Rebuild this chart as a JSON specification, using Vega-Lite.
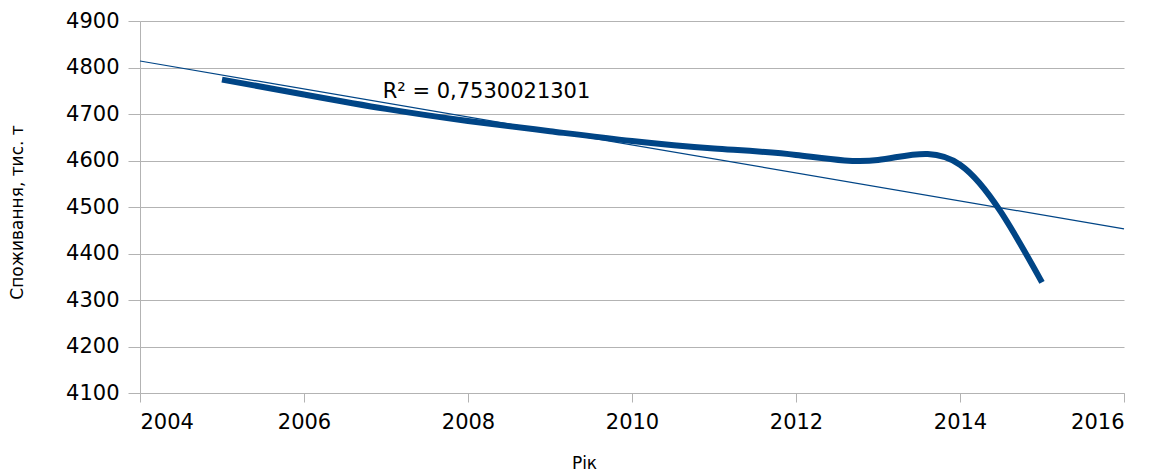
{
  "$schema": "https://vega.github.io/schema/vega-lite/v6.json",
  "width": 984,
  "height": 372,
  "autosize": {"type": "none"},
  "padding": {"left": 140, "top": 21, "right": 33, "bottom": 79},
  "background": "white",
  "config": {
    "view": {"stroke": null},
    "font": "DejaVu Sans"
  },
  "datasets": {
    "series": [
      {"year": 2005, "value": 4774},
      {"year": 2006, "value": 4742},
      {"year": 2007, "value": 4711},
      {"year": 2008, "value": 4685},
      {"year": 2009, "value": 4663},
      {"year": 2010, "value": 4642},
      {"year": 2011, "value": 4626},
      {"year": 2012, "value": 4612},
      {"year": 2013, "value": 4601},
      {"year": 2014, "value": 4591},
      {"year": 2015, "value": 4338}
    ],
    "trend": [
      {"year": 2004, "value": 4814},
      {"year": 2016, "value": 4453}
    ],
    "label": [
      {"year": 2006.96, "value": 4747, "text": "R² = 0,7530021301"}
    ]
  },
  "layer": [
    {
      "data": {"name": "series"},
      "mark": {"type": "line", "interpolate": "natural", "color": "#004586", "strokeWidth": 6, "clip": false},
      "encoding": {
        "x": {
          "field": "year", "type": "quantitative",
          "scale": {"domain": [2004, 2016], "nice": false, "zero": false},
          "axis": {
            "values": [2004, 2006, 2008, 2010, 2012, 2014, 2016],
            "format": "d",
            "grid": false,
            "domainColor": "#b3b3b3",
            "tickColor": "#b3b3b3",
            "tickSize": 9,
            "labelFontSize": 21,
            "labelColor": "#000000",
            "labelPadding": 9,
            "labelFont": "DejaVu Sans",
            "title": "Рік",
            "titleFont": "DejaVu Sans",
            "titleFontSize": 17,
            "titleFontWeight": "normal",
            "titleColor": "#000000",
            "titleX": 444,
            "titleY": 70,
            "titleBaseline": "middle",
            "titleAnchor": "middle"
          }
        },
        "y": {
          "field": "value", "type": "quantitative",
          "scale": {"domain": [4100, 4900], "nice": false, "zero": false},
          "axis": {
            "values": [4100, 4200, 4300, 4400, 4500, 4600, 4700, 4800, 4900],
            "format": "d",
            "grid": true,
            "gridColor": "#b3b3b3",
            "domainColor": "#b3b3b3",
            "tickColor": "#b3b3b3",
            "tickSize": 12,
            "labelFontSize": 21,
            "labelColor": "#000000",
            "labelPadding": 9,
            "labelFont": "DejaVu Sans",
            "title": "Споживання, тис. т",
            "titleFont": "DejaVu Sans",
            "titleFontSize": 17,
            "titleFontWeight": "normal",
            "titleColor": "#000000",
            "titleAngle": -90,
            "titleX": -123,
            "titleY": 191,
            "titleBaseline": "middle",
            "titleAnchor": "middle"
          }
        }
      }
    },
    {
      "data": {"name": "trend"},
      "mark": {"type": "line", "color": "#004586", "strokeWidth": 1.2},
      "encoding": {
        "x": {"field": "year", "type": "quantitative"},
        "y": {"field": "value", "type": "quantitative"}
      }
    },
    {
      "data": {"name": "label"},
      "mark": {"type": "text", "align": "left", "baseline": "middle", "fontSize": 21, "font": "DejaVu Sans", "color": "#000000"},
      "encoding": {
        "x": {"field": "year", "type": "quantitative"},
        "y": {"field": "value", "type": "quantitative"},
        "text": {"field": "text"}
      }
    }
  ]
}
